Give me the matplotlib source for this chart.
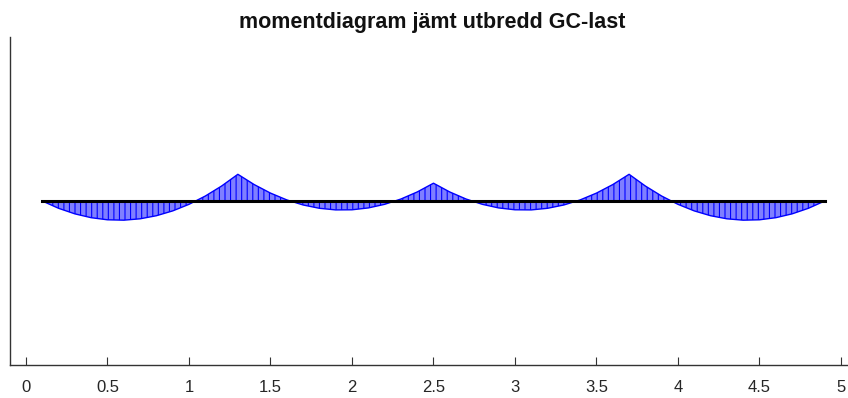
import numpy as np
import matplotlib
matplotlib.use("Agg")
import matplotlib.pyplot as plt

# beam: four equal spans, supports at 0.1, 1.3, 2.5, 3.7, 4.9 m
supports = [0.1, 1.3, 2.5, 3.7, 4.9]
x_pos = [round(0.1 + 0.1 * i, 2) for i in range(49)]

# moment ordinates (hogging drawn upwards), one value per 0.1 m
moment = [
    0.0, -0.445, -0.784, -1.018, -1.146, -1.169, -1.086, -0.898, -0.604, -0.204, 0.301, 0.912, 1.628,
    1.002, 0.482, 0.067, -0.242, -0.445, -0.543, -0.536, -0.423, -0.204, 0.120, 0.550, 1.085,
    0.550, 0.120, -0.204, -0.423, -0.536, -0.543, -0.445, -0.242, 0.067, 0.482, 1.002, 1.628,
    0.912, 0.301, -0.204, -0.604, -0.898, -1.086, -1.169, -1.146, -1.018, -0.784, -0.445, 0.0,
]

xticks = [0, 0.5, 1, 1.5, 2, 2.5, 3, 3.5, 4, 4.5, 5]
xtick_labels = ["0", "0.5", "1", "1.5", "2", "2.5", "3", "3.5", "4", "4.5", "5"]

plt.rcParams["font.family"] = ["Liberation Sans", "DejaVu Sans"]
plt.rcParams["hatch.linewidth"] = 0.8

fig = plt.figure(figsize=(8.48, 3.98), dpi=100)
ax = fig.add_axes([10 / 848, 1 - 365 / 398, 838 / 848, 328 / 398])

x = np.array(x_pos)
m = np.array(moment)

ax.fill_between(x, m, 0, facecolor="#7f7fff", edgecolor="blue",
                hatch="|||", linewidth=0)
ax.plot(x, m, color="blue", linewidth=1.0)
ax.plot([supports[0], supports[-1]], [0, 0], color="black", linewidth=2.2)

ax.set_xlim(-0.098, 5.043)
ax.set_ylim(-10, 10)
ax.set_xticks(xticks)
ax.set_xticklabels(xtick_labels)
ax.set_yticks([])
ax.tick_params(axis="x", direction="in", length=6, width=0.8,
               color="#333333", labelsize=12, labelcolor="#262626", pad=10.5)
for side in ["top", "right"]:
    ax.spines[side].set_visible(False)
for side in ["left", "bottom"]:
    ax.spines[side].set_color("#333333")
    ax.spines[side].set_linewidth(1.0)

fig.text(0.51, 1 - 28 / 398, "momentdiagram jämt utbredd GC-last",
         ha="center", va="baseline", fontsize=15.5, fontweight="bold", color="#111111")

fig.savefig("out.png", dpi=100)
